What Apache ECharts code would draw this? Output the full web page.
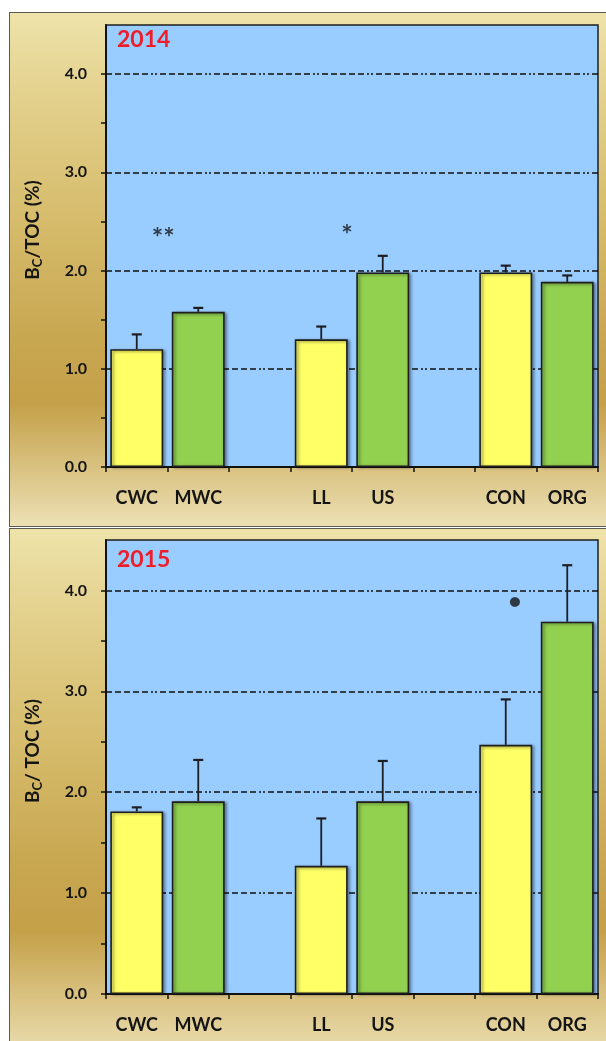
<!DOCTYPE html>
<html><head><meta charset="utf-8">
<script src="https://cdn.jsdelivr.net/npm/echarts@6/dist/echarts.min.js"></script>
<style>
html,body{margin:0;padding:0;background:#fff;}
#wrap{position:relative;width:606px;height:1041px;overflow:hidden;}
.frame{position:absolute;left:9px;width:610px;border:1.5px solid #5a5a50;box-sizing:border-box;
background:linear-gradient(to bottom,#eee3aa 0%,#e2cf8a 18%,#d6bc6c 40%,#c9a852 62%,#c4a048 76%,#d8c07e 88%,#ece0b4 100%);}
#f1{top:12px;height:515px;}
#f2{top:528px;height:530px;}
#chart{position:absolute;left:0;top:0;width:606px;height:1041px;}
</style></head>
<body><div id="wrap"><div class="frame" id="f1"></div><div class="frame" id="f2"></div><div id="chart"></div></div>
<script>
// ---- data ----
const categories = ['CWC','MWC','','LL','US','','CON','ORG'];
const years = ['2014','2015'];
// yellow (first of each pair) and green (second) bar values
const yellow2014 = [1.20, null, null, 1.30, null, null, 1.98, null];
const green2014  = [null, 1.58, null, null, 1.98, null, null, 1.885];
const errTop2014 = [1.35, 1.62, null, 1.43, 2.15, null, 2.05, 1.95];
const yellow2015 = [1.81, null, null, 1.27, null, null, 2.47, null];
const green2015  = [null, 1.91, null, null, 1.91, null, null, 3.69];
const errTop2015 = [1.85, 2.32, null, 1.74, 2.31, null, 2.92, 4.25];
// significance marks: [x position in category units, y value, text]
const marks2014 = [[0.93, 2.39, '**'], [3.92, 2.42, '*']];
const marks2015 = [[6.65, 3.89, '•']];
const yTicks = [0, 1, 2, 3, 4];
const yMax = 4.5;

const FONT = 'Lato, "Open Sans", sans-serif';
const chart = echarts.init(document.getElementById('chart'), null, {renderer:'canvas'});

function combine(y, g){ return y.map((v,i)=> v!=null ? v : g[i]); }
function errData(y, g, t){
  const base = combine(y,g);
  return t.map((v,i)=> v==null ? null : [i, base[i], v]).filter(d=>d);
}
function errRender(params, api){
  const x = api.value(0), v = api.value(1), t = api.value(2);
  const p0 = api.coord([x, v]); const p1 = api.coord([x, t]);
  const hw = 5;
  return {type:'group', children:[
    {type:'line', shape:{x1:p0[0],y1:p0[1],x2:p1[0],y2:p1[1]}, style:{stroke:'#1d1d22',lineWidth:1.8}},
    {type:'line', shape:{x1:p1[0]-hw,y1:p1[1],x2:p1[0]+hw,y2:p1[1]}, style:{stroke:'#1d1d22',lineWidth:2.2}}
  ]};
}
const dash = [6,3,6,3,6,3,6,3,6,3,2,2,2,3];
function catAxis(gi){
  return {type:'category', gridIndex:gi, data:categories, boundaryGap:true,
    axisLine:{lineStyle:{color:'#111',width:2}},
    axisTick:{show:true, inside:false, length:5, lineStyle:{color:'#111',width:1.5}},
    axisLabel:{color:'#141414', fontFamily:FONT, fontWeight:'bold', fontSize:18, margin:22, interval:0}};
}
function hidAxis(gi){ return {type:'value', gridIndex:gi, min:0, max:categories.length, show:false}; }
function valAxis(gi, nameRich){
  return {type:'value', gridIndex:gi, min:0, max:yMax, interval:0.5,
    name:nameRich, nameLocation:'middle', nameGap:62, nameRotate:90,
    nameTextStyle:{color:'#141414', fontFamily:FONT, fontWeight:'bold', fontSize:19, padding:[0,0,0,32],
      rich:{s:{fontFamily:FONT, fontWeight:'bold', fontSize:13, color:'#141414', padding:[10,0,0,0]}}},
    axisLine:{show:true, lineStyle:{color:'#111',width:2}},
    axisTick:{show:true, inside:false, length:5, lineStyle:{color:'#111',width:1.5}},
    axisLabel:{color:'#141414', fontFamily:FONT, fontWeight:'bold', fontSize:16, margin:19,
      showMaxLabel:false,
      formatter:(v)=> yTicks.indexOf(v) >= 0 ? v.toFixed(1) : ''},
    splitLine:{show:true, lineStyle:{color:['#111','transparent'], width:1.5, type:dash}}};
}
function barSeries(data, color, gi){
  return {type:'bar', xAxisIndex:gi, yAxisIndex:gi, data:data, barGap:'-100%', barCategoryGap:'14%', z:3,
    itemStyle:{color:color, borderColor:'#1e1e1e', borderWidth:1.6,
      shadowColor:'rgba(0,0,0,0.45)', shadowBlur:3, shadowOffsetX:2, shadowOffsetY:1}};
}
function markSeries(marks, gi){
  return {type:'scatter', xAxisIndex:gi+2, yAxisIndex:gi, symbolSize:0, z:6, silent:true,
    data:marks.map(m=>{
      const isDot = m[2] === '•';
      return {value:[m[0],m[1]], name:m[2],
        label:{fontSize: isDot ? 23 : 27, offset: isDot ? [0,0] : [0,6]}};
    }),
    label:{show:true, position:'inside', formatter:p=>p.name, color:'#141414', fontFamily:FONT,
      fontWeight:'bold'}};
}
const option = {
  animation:false,
  backgroundColor:'transparent',
  title: years.map((y,i)=>({text:y, left:117, top: i===0 ? 28 : 548, padding:0,
    textStyle:{color:'#ee1d2a', fontFamily:FONT, fontWeight:'bold', fontSize:23}})),
  grid:[
    {left:106, top:25, width:492, height:442, show:true, backgroundColor:'#99ccff', borderColor:'#1e1e1e', borderWidth:1.5},
    {left:106, top:540, width:492, height:454, show:true, backgroundColor:'#99ccff', borderColor:'#1e1e1e', borderWidth:1.5}
  ],
  xAxis:[catAxis(0), catAxis(1), hidAxis(0), hidAxis(1)],
  yAxis:[valAxis(0, 'B{s|C}/TOC (%)'), valAxis(1, 'B{s|C}/ TOC (%)')],
  series:[
    barSeries(yellow2014, '#ffff66', 0),
    barSeries(green2014, '#92d050', 0),
    {type:'custom', xAxisIndex:0, yAxisIndex:0, renderItem:errRender, data:errData(yellow2014,green2014,errTop2014), z:5, silent:true},
    markSeries(marks2014, 0),
    barSeries(yellow2015, '#ffff66', 1),
    barSeries(green2015, '#92d050', 1),
    {type:'custom', xAxisIndex:1, yAxisIndex:1, renderItem:errRender, data:errData(yellow2015,green2015,errTop2015), z:5, silent:true},
    markSeries(marks2015, 1)
  ]
};
chart.setOption(option);
</script></body></html>
